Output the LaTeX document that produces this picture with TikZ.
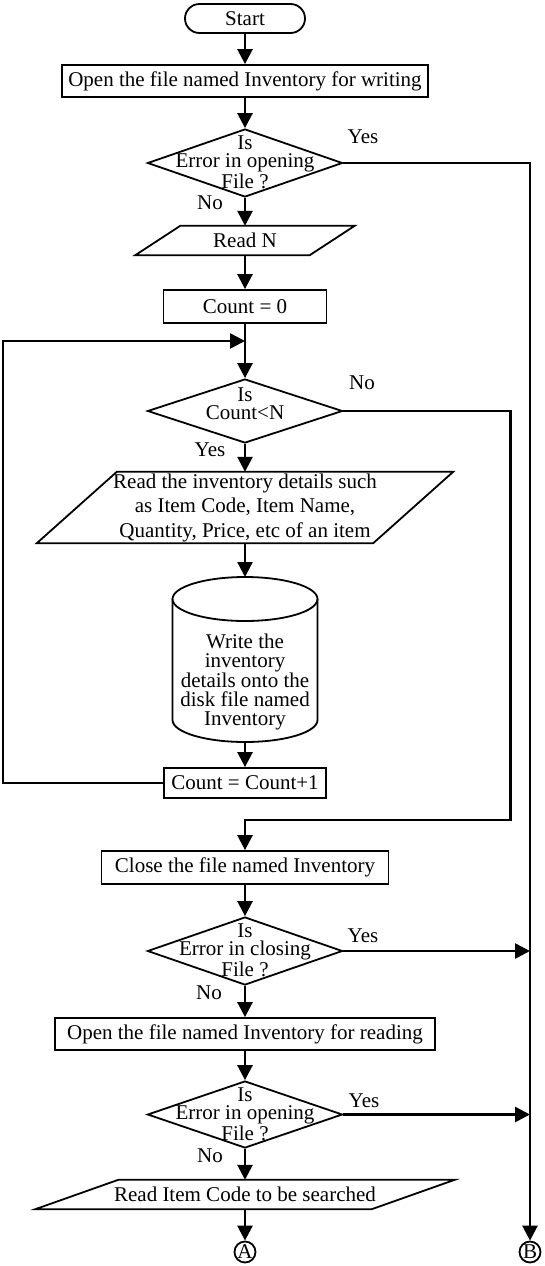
\documentclass[tikz,border=0pt]{standalone}
\usepackage{fontspec}
\setmainfont{Liberation Serif}
\usepackage{tikz}
\usetikzlibrary{arrows.meta,shapes.geometric,shapes.misc}

% parallelogram round an undrawn node: node name, half slant
\newcommand{\ioshape}[2]{%
  \draw[line width=1.8pt] ([xshift=#2]#1.north west) -- ([xshift=#2]#1.north east)
    -- ([xshift=-#2]#1.south east) -- ([xshift=-#2]#1.south west) -- cycle;}

\begin{document}
\begin{tikzpicture}[x=1pt, y=-1pt,
    font=\fontsize{21}{19}\selectfont,
    shapeline/.style={draw, line width=1.8pt},
    term/.style={shapeline, rounded rectangle, minimum width=120pt, minimum height=29pt, inner sep=0pt},
    proc/.style={shapeline, rectangle, inner sep=0pt},
    decision/.style={shapeline, diamond, minimum width=195pt, minimum height=68pt, inner sep=0pt},
    dtext/.style={align=center, font=\fontsize{21}{18.5}\selectfont},
    io/.style={inner sep=0pt, align=center},
    conn/.style={shapeline, circle, minimum size=21pt, inner sep=0pt},
    flow/.style={line width=2.6pt},
    arr/.style={flow, -{Triangle[length=15pt,width=15pt]}}]
  \useasboundingbox (0,0) rectangle (544,1266);

  % writing the file
  \node[term] (start) at (245,18.5) {Start};
  \node[proc, minimum width=366pt, minimum height=32pt] (open1) at (245,81) {Open the file named Inventory for writing};
  \node[decision] (d1) at (245,163) {};
  \node[dtext] (d1txt) at (245,162) {Is\\Error in opening\\File ?};
  \node[io, minimum width=174pt, minimum height=29pt] (readn) at (245,240.5) {Read N};
  \ioshape{readn}{22.5}
  \node[proc, minimum width=163pt, minimum height=33pt] (cnt0) at (245,306.5) {Count = 0};
  \coordinate (join) at (245,341);
  \node[decision, minimum height=64pt] (d2) at (245,411) {};
  \node[dtext] (d2txt) at (245,403.5) {Is\\Count<N};
  \node[io, minimum width=336pt, minimum height=71pt, font=\fontsize{21}{24.5}\selectfont] (inv) at (245,507.5)
    {Read the inventory details such\\as Item Code, Item Name,\\Quantity, Price, etc of an item};
  \ioshape{inv}{40}

  % disk
  \coordinate (disktop) at (245,577);
  \coordinate (diskbot) at (245,742);
  \draw[shapeline] (245,599) ellipse [x radius=72.5pt, y radius=22pt];
  \draw[shapeline] (172.5,599) -- (172.5,720) arc[start angle=180, end angle=360, x radius=72.5pt, y radius=22pt] -- (317.5,599);
  \node[align=center, font=\fontsize{21}{19.3}\selectfont] (disk) at (245,682)
    {Write the\\inventory\\details onto the\\disk file named\\Inventory};

  \node[proc, minimum width=162pt, minimum height=30pt] (cnt1) at (245,783) {Count = Count+1};

  % closing and reading
  \node[proc, minimum width=287pt, minimum height=33pt] (close) at (245,867.5) {Close the file named Inventory};
  \node[decision] (d3) at (245,951) {};
  \node[dtext] (d3txt) at (245,950) {Is\\Error in closing\\File ?};
  \node[proc, minimum width=380pt, minimum height=32pt] (open2) at (245,1034) {Open the file named Inventory for reading};
  \node[decision, minimum height=67pt] (d4) at (245,1114.5) {};
  \node[dtext] (d4txt) at (245,1114) {Is\\Error in opening\\File ?};
  \node[io, minimum width=336pt, minimum height=29pt] (rcode) at (245,1194.5) {Read Item Code to be searched};
  \ioshape{rcode}{41.5}
  \node[conn] (A) at (245,1252) {A};
  \node[conn] (B) at (530,1252) {B};

  % branch labels
  \node (yes1) at (363,137) {Yes};
  \node (no1) at (210,203) {No};
  \node (no2) at (362,383) {No};
  \node (yes2) at (210,450) {Yes};
  \node (yes3) at (363,936) {Yes};
  \node (no3) at (209,993) {No};
  \node (yes4) at (364,1101) {Yes};
  \node (no4) at (210,1156) {No};

  % flow lines
  \draw[arr] (start.south) -- (open1.north);
  \draw[arr] (open1.south) -- (d1.north);
  \draw[arr] (d1.south) -- (readn.north);
  \draw[arr] (readn.south) -- (cnt0.north);
  \draw[arr] (cnt0.south) -- (d2.north);
  \draw[arr] (d2.south) -- (inv.north);
  \draw[arr] (inv.south) -- (disktop);
  \draw[arr] (diskbot) -- (cnt1.north);
  \draw[arr] (cnt1.west) -- ++(-160,0) |- (join);
  \draw[arr] (d2.east) -- ++(167,0) |- ([yshift=30pt]close.north) -- (close.north);
  \draw[arr] (close.south) -- (d3.north);
  \draw[arr] (d3.south) -- (open2.north);
  \draw[arr] (open2.south) -- (d4.north);
  \draw[arr] (d4.south) -- (rcode.north);
  \draw[arr] (rcode.south) -- (A.north);
  \draw[arr] (d1.east) -| (B.north);
  \draw[arr] (d3.east) -- (d3.east -| B.north);
  \draw[arr] (d4.east) -- (d4.east -| B.north);
\end{tikzpicture}
\end{document}
